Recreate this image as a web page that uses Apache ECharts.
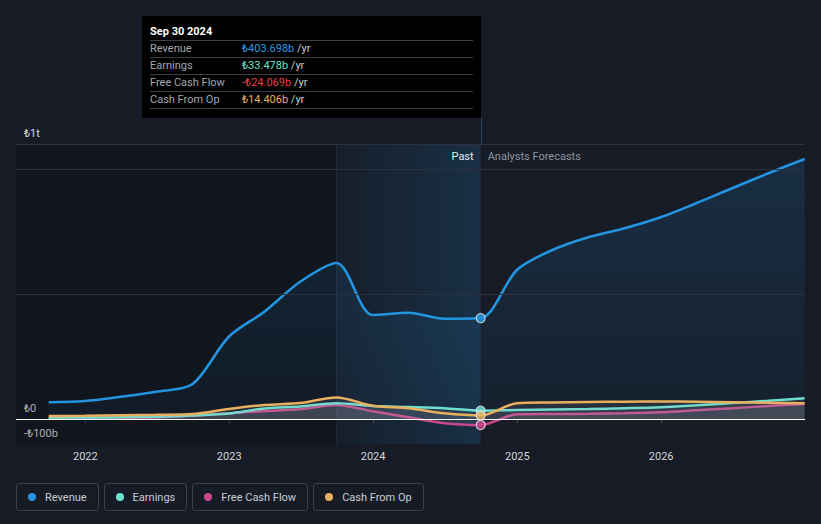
<!DOCTYPE html>
<html><head><meta charset="utf-8">
<script src="https://cdn.jsdelivr.net/npm/echarts@6/dist/echarts.min.js"></script>
<style>
html,body{margin:0;padding:0;background:#161b26;width:821px;height:524px;overflow:hidden;font-family:Roboto,"Noto Sans",sans-serif;}
#chart{position:absolute;left:0;top:0;width:821px;height:524px;}
#tip{position:absolute;top:16px;height:102px;background:#000;box-sizing:border-box;padding:0 8px;font-size:11px;}
#tip .title{height:25px;box-sizing:border-box;padding-top:9px;line-height:14px;color:#fff;font-weight:bold;border-bottom:1px solid #3a3d43;}
#tip .row{height:17px;box-sizing:border-box;line-height:16px;border-bottom:1px solid #3a3d43;display:flex;}
#tip .lab{width:92px;color:#a3a7ae;}
#tip .unit{color:#c9ccd1;}
#conn{position:absolute;top:118px;height:26px;width:1px;background:#2a4560;}
#legend{position:absolute;left:16px;top:483px;display:flex;gap:5px;}
#legend .item{height:28px;box-sizing:border-box;border:1px solid #3a3f49;border-radius:3px;display:flex;align-items:center;padding:0 11px 0 11px;font-size:11px;color:#c9cdd3;}
#legend .dot{width:8px;height:8px;border-radius:50%;margin-right:9px;}
</style></head>
<body>
<div id="chart"></div>
<div id="conn"></div>
<div id="tip"></div>
<div id="legend"></div>
<script>
// ---- data (values in ₺ billions) ----
const dates = ['2021-09-30','2021-12-31','2022-03-31','2022-06-30','2022-09-30','2022-12-31','2023-03-31','2023-06-30','2023-09-30','2023-12-31','2024-03-31','2024-06-30','2024-09-30',
               '2024-12-31','2025-03-31','2025-06-30','2025-09-30','2025-12-31','2026-03-31','2026-06-30','2026-09-30','2026-12-31'];
const lastActualIndex = 12;
const revenue      = [67, 72, 89, 109, 140, 329, 429, 549, 624, 416, 425, 401, 403.698, 596, 676, 727, 763, 807, 863, 923, 983, 1040];
const earnings     = [5, 6, 7, 9, 14, 22, 42, 50, 63, 52, 48, 43, 33.478, 36, 38, 40, 43, 47, 55, 64, 73, 83];
const freeCashFlow = [4, 4, 5, 6, 13, 23, 32, 39, 56, 31, 7, -17, -24.069, 19, 20, 21, 23, 27, 35, 43, 52, 60];
const cashFromOp   = [12, 13, 15, 17, 20, 40, 56, 64, 86, 53, 43, 23, 14.406, 63, 66, 68, 69, 70, 69, 67, 65, 63];
const seriesNames  = ['Revenue','Earnings','Free Cash Flow','Cash From Op'];
const seriesColors = ['#2394df','#6de0cf','#c9478a','#e8b05e'];
const yLabelValues = [-100, 0, 1100];
const yLabelTexts  = ['-₺100b', '₺0', '₺1t'];
const gridValues   = [500, 1000, 1100];
const yearTicks    = [2022, 2023, 2024, 2025, 2026];
const axisStart = '2021-07-09', axisEnd = '2027-01-01';
const pastStart = '2023-09-30';
const tooltipTitle = 'Sep 30 2024';

const ts = s => { const [y,m,d] = s.split('-').map(Number); return Date.UTC(y, m-1, d); };
const allSeries = [revenue, earnings, freeCashFlow, cashFromOp];
const pts = arr => dates.map((d,i) => [ts(d), arr[i]]);
const nowT = ts(dates[lastActualIndex]);
const yearTs = yearTicks.map(y => Date.UTC(y,0,1));

const chart = echarts.init(document.getElementById('chart'), null, {renderer:'svg', width:821, height:524});
const smallArea = {color:'rgba(170,170,185,0.16)'};
const SMOOTH = 0.3;
const series = [
  { // background regions and gridlines
    type:'line', data: pts(revenue), z:1, silent:true, showSymbol:false,
    lineStyle:{width:0, opacity:0},
    markLine:{ silent:true, symbol:'none', label:{show:false},
      data:[
        ...gridValues.map(v => ({yAxis:v, lineStyle:{color:'#2c313b', width:1, type:'solid'}})),
        {yAxis:0, lineStyle:{color:'#ffffff', width:1.2, type:'solid'}},
        {xAxis:ts(pastStart), lineStyle:{color:'rgba(70,120,160,0.18)', width:1, type:'solid'}}
      ]},
    markArea:{ silent:true,
      data:[
        [{xAxis:ts(axisStart), itemStyle:{color:'rgba(0,0,0,0.2)'}}, {xAxis:ts(pastStart)}],
        [{xAxis:ts(pastStart), itemStyle:{color:{type:'linear',x:0,y:0,x2:1,y2:0,colorStops:[{offset:0,color:'rgba(35,148,223,0.03)'},{offset:1,color:'rgba(35,148,223,0.17)'}]}},
          label:{show:true, formatter:'Past', position:'insideTopRight', color:'#e6e8eb', fontSize:11, distance:7, fontFamily:'Roboto'}},
         {xAxis:nowT}],
        [{xAxis:nowT, itemStyle:{color:'rgba(0,0,0,0)'},
          label:{show:true, formatter:'Analysts Forecasts', position:'insideTopLeft', color:'#8f959d', fontSize:11, distance:7, fontFamily:'Roboto'}},
         {xAxis:ts(axisEnd)}]
      ]}
  },
  { name:seriesNames[0], type:'line', data:pts(revenue), z:3, smooth:SMOOTH, showSymbol:false,
    lineStyle:{color:seriesColors[0], width:2.6}, itemStyle:{color:seriesColors[0]},
    areaStyle:{color:{type:'linear',x:0,y:0,x2:0,y2:1,colorStops:[{offset:0,color:'rgba(35,148,223,0.22)'},{offset:1,color:'rgba(35,148,223,0.06)'}]}} },
  { name:seriesNames[2], type:'line', data:pts(freeCashFlow), z:4, smooth:SMOOTH, showSymbol:false,
    lineStyle:{color:seriesColors[2], width:2.5}, itemStyle:{color:seriesColors[2]}, areaStyle:smallArea },
  { name:seriesNames[1], type:'line', data:pts(earnings), z:5, smooth:SMOOTH, showSymbol:false,
    lineStyle:{color:seriesColors[1], width:2.5}, itemStyle:{color:seriesColors[1]}, areaStyle:smallArea },
  { name:seriesNames[3], type:'line', data:pts(cashFromOp), z:6, smooth:SMOOTH, showSymbol:false,
    lineStyle:{color:seriesColors[3], width:2.5}, itemStyle:{color:seriesColors[3]}, areaStyle:smallArea },
  { type:'scatter', z:10, silent:true, symbolSize:9,
    data: allSeries.map((arr,i) => ({value:[nowT, arr[lastActualIndex]], itemStyle:{color:seriesColors[i], borderColor:'#e4e6ea', borderWidth:1.2}})) }
];

chart.setOption({
  backgroundColor:'#161b26',
  animation:false,
  textStyle:{fontFamily:'Roboto'},
  grid:{left:16, right:16, top:144, bottom:80, containLabel:false},
  xAxis:{ type:'value', min:ts(axisStart), max:ts(axisEnd),
    axisLine:{show:true, lineStyle:{color:'#454a53', width:1}},
    axisTick:{show:true, length:4, lineStyle:{color:'#454a53'}, customValues: yearTs},
    axisLabel:{color:'#d3d6db', fontSize:11, margin:7, customValues: yearTs,
      formatter: v => String(new Date(v).getUTCFullYear())},
    splitLine:{show:false} },
  yAxis:{ type:'value', min:-100, max:1100, interval:100,
    axisLine:{show:false}, axisTick:{show:false}, splitLine:{show:false},
    axisLabel:{inside:true, margin:8, color:'#d6d9de', fontSize:11, verticalAlign:'bottom', padding:[0,0,5,0],
      customValues: yLabelValues,
      formatter: v => { const i = yLabelValues.indexOf(v); return i >= 0 ? yLabelTexts[i] : ''; } } },
  series
});

// tooltip box (real text)
const nowPx = chart.convertToPixel({xAxisIndex:0, yAxisIndex:0}, [nowT, 0])[0];
const tip = document.getElementById('tip');
tip.style.left = '142px';
tip.style.width = (nowPx - 142) + 'px';
const fmt = v => (v < 0 ? '-₺' : '₺') + Math.abs(v).toFixed(3) + 'b';
const valColors = ['#2a98e3','#6de0cf','#e8403f','#e8b05e'];
let html = '<div class="title">' + tooltipTitle + '</div>';
seriesNames.forEach((n,i) => {
  html += '<div class="row"><span class="lab">' + n + '</span><span style="color:' + valColors[i] + '">' + fmt(allSeries[i][lastActualIndex]) + '</span><span class="unit">&nbsp;/yr</span></div>';
});
tip.innerHTML = html;
document.getElementById('conn').style.left = (Math.round(nowPx) - 0.5) + 'px';

// legend (real text)
const lg = document.getElementById('legend');
seriesNames.forEach((n,i) => {
  const d = document.createElement('div'); d.className = 'item';
  d.innerHTML = '<span class="dot" style="background:' + seriesColors[i] + '"></span>' + n;
  lg.appendChild(d);
});
</script>
</body></html>
